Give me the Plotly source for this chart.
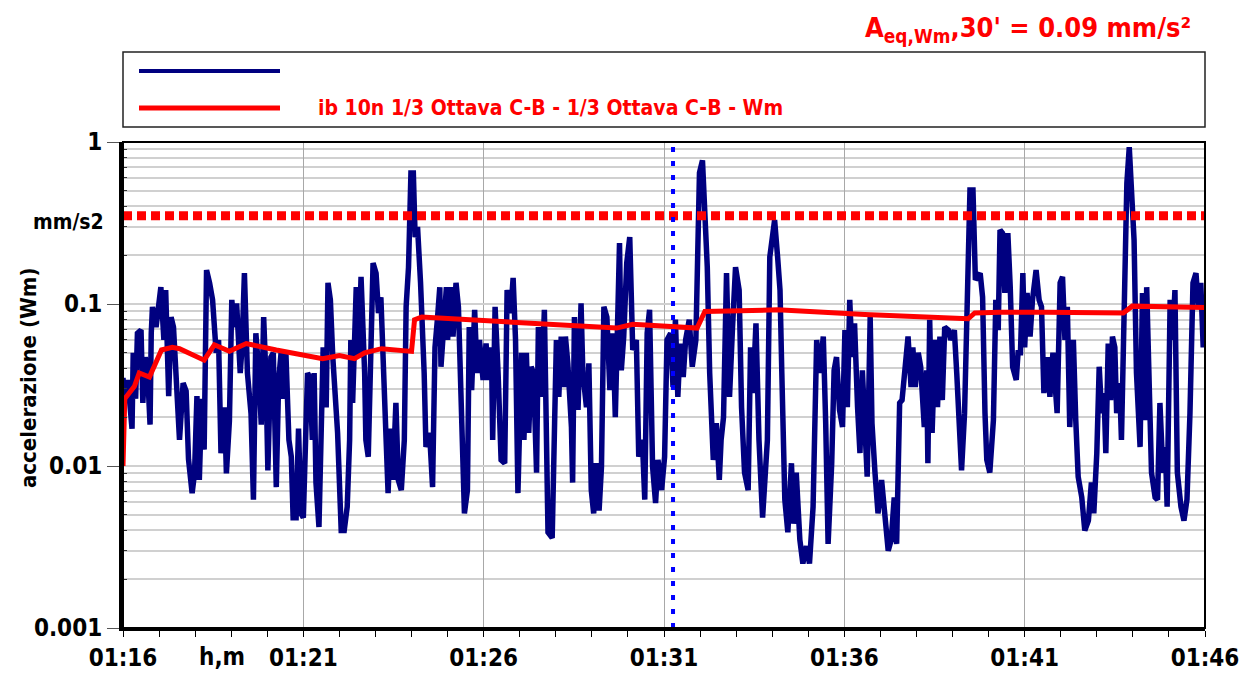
import pandas as pd
import plotly.graph_objects as go

# --- Weighted (Wm) acceleration, 1/3-octave band, sampled every few seconds ---
# time offsets in seconds from 01:16:00
blue_sec = [
    0, 2, 8, 15, 17, 21, 24, 30, 33, 37,
    41, 45, 47, 49, 55, 59, 63, 68, 71, 76,
    80, 84, 88, 94, 100, 105, 109, 115, 119, 123,
    127, 131, 135, 139, 144, 149, 155, 159, 163, 169,
    172, 177, 181, 185, 189, 195, 198, 202, 207, 213,
    217, 221, 226, 230, 234, 238, 241, 246, 250, 255,
    259, 263, 267, 271, 276, 280, 283, 288, 292, 296,
    300, 303, 307, 311, 315, 318, 321, 326, 330, 333,
    338, 341, 345, 349,
    357, 363, 368, 373, 377, 379, 382, 388, 392, 396,
    402, 404, 408, 412, 416, 421, 425, 429, 435, 441,
    445, 449, 454, 458, 463, 468, 471, 475, 479, 483,
    486, 490, 495, 499, 501, 504, 510, 515, 519, 523,
    527, 529, 534, 538, 540, 545, 549, 554, 558, 563,
    568, 573, 576, 580, 585, 589, 593, 599, 604, 608,
    613, 615, 619, 624, 629, 635, 639, 645, 649, 653,
    657, 663, 667, 671, 675, 679, 683, 688, 691, 696,
    701, 707,
    714, 718, 721, 725, 729, 733, 736, 740, 746, 748,
    751, 757, 762, 765, 771, 775, 779, 783, 787, 792,
    796, 800, 805, 810, 815, 819, 822, 826, 829, 833,
    838, 843, 848, 854, 858, 864, 868, 872, 876, 881,
    886, 890, 896, 901, 905, 911, 915, 919, 923, 927,
    932, 936, 942, 947, 953, 955, 959, 964, 968, 972,
    976, 982, 987, 992, 995, 999, 1004, 1009, 1014, 1019,
    1025, 1029, 1034, 1040, 1044, 1048, 1053, 1058, 1064,
    1072, 1076, 1080, 1084, 1089, 1093, 1096, 1101, 1106, 1112,
    1116, 1120, 1126, 1131, 1137, 1142, 1148, 1154, 1159, 1165,
    1169, 1173, 1179, 1183, 1187, 1192, 1197, 1201, 1205, 1209,
    1213, 1217, 1222, 1226, 1230, 1234, 1238, 1243, 1246, 1251,
    1256, 1262, 1267, 1273, 1278, 1283, 1287, 1292, 1296, 1301,
    1306, 1311, 1314, 1318, 1323, 1327, 1333, 1337, 1339, 1342,
    1346, 1351, 1355, 1359, 1363, 1367, 1373, 1377, 1383, 1387,
    1391, 1395, 1400, 1405, 1409, 1414, 1418,
    1426, 1430, 1434, 1437, 1442, 1448, 1452, 1456, 1459, 1463,
    1467, 1472, 1476, 1480, 1486, 1489, 1493, 1497, 1500, 1504,
    1509, 1513, 1519, 1524, 1528, 1532, 1538, 1542, 1547, 1550,
    1554, 1559, 1563, 1567, 1571, 1575, 1581, 1585, 1589, 1595,
    1600, 1606, 1611, 1615, 1620, 1624, 1628, 1632, 1635, 1639,
    1643, 1646, 1650, 1653, 1658, 1661, 1665, 1670, 1674, 1678,
    1682, 1686, 1692, 1696, 1700, 1703, 1708, 1711, 1717, 1721,
    1725, 1730, 1734, 1737, 1742, 1746, 1750, 1754, 1760, 1765,
    1770, 1775, 1780, 1785, 1789, 1793, 1797, 1800,
]
# acceleration values in mm/s2
blue_val = [
    .035, .026, .034, .017, .050, .026, .066, .069, .0245, .047,
    .0375, .018, .066, .096, .072, .101, .127, .060, .122, .027,
    .083, .072, .034, .0145, .0325, .029, .011, .0068, .009, .027,
    .0082, .026, .0126, .162, .135, .106, .050, .060, .012, .023,
    .009, .019, .106, .072, .101, .0375, .054, .155, .0375, .021,
    .0062, .066, .0375, .018, .083, .034, .0094, .047, .050, .0074,
    .034, .050, .026, .050, .0145, .0114, .0048, .0048, .017, .0051,
    .0048, .016, .0375, .035, .0145, .0375, .0079, .0042, .0145, .054,
    .023, .135, .106, .047,
    .016, .004, .004, .0056, .0145, .060, .0245, .127, .047, .147,
    .0375, .0145, .0114, .066, .179, .155, .088, .110, .023, .0068,
    .017, .0082, .0245, .0082, .0071, .0145, .096, .169, .644, .644,
    .259, .299, .135, .072, .0375, .0131, .016, .0074, .054, .080,
    .127, .041, .083, .127, .060, .127, .063, .135, .096, .0255,
    .0051, .0071, .072, .0294, .092, .0375, .060, .034, .057, .034,
    .054, .0145, .096, .0375, .0109, .0104, .122, .088, .145, .060,
    .0068, .050, .0145, .050, .016, .041, .0375, .0091, .072, .0267,
    .092, .0039,
    .0036, .0184, .060, .0267, .063, .0307, .063, .043, .0174, .0079,
    .083, .0222, .101, .0375, .0231, .043, .0071, .0051, .0104, .0053,
    .0099, .096, .083, .0294, .066, .020, .063, .238, .039, .063,
    .179, .259, .052, .060, .0114, .0145, .0062, .066, .092, .0099,
    .0059, .0109, .0071, .0114, .060, .066, .0307, .080, .0267, .057,
    .0354, .060, .080, .041, .060, .135, .644, .77, .397, .169,
    .0375, .0109, .0184, .0082, .0145, .020, .155, .0267, .072, .169,
    .122, .0231, .0091, .0071, .054, .0282, .076, .0145, .0048,
    .0145, .195, .274, .330, .195, .122, .0375, .0062, .0039, .0104,
    .0044, .0091, .0035, .0025, .0032, .0025, .0056, .060, .0375, .063,
    .0184, .0033, .0104, .039, .047, .0222, .0174, .069, .0231, .106,
    .047, .076, .0231, .012, .039, .0212, .0086, .083, .0184, .0091,
    .0051, .0082, .0048, .0030, .0035, .0064, .0033, .0245, .0255, .045,
    .063, .0307, .054, .0307, .050, .041, .0174, .039, .0104, .080,
    .016, .060, .0231, .063, .0255, .072, .069, .060, .069, .0375,
    .0212, .0094, .0212, .110, .505, .505, .141,
    .155, .110, .0212, .0109, .0091, .0192, .106, .069, .286, .274,
    .117, .274, .127, .041, .034, .050, .050, .155, .054, .117,
    .063, .106, .162, .106, .096, .0282, .047, .0267, .050, .0354,
    .0212, .135, .147, .060, .096, .0174, .060, .0192, .0086, .0064,
    .0040, .0046, .0079, .0051, .012, .041, .0212, .0282, .012, .057,
    .0255, .063, .054, .0212, .0325, .0145, .066, .558, .93, .438,
    .248, .0375, .0131, .117, .0192, .127, .0231, .0091, .0064, .0062,
    .0245, .0091, .0131, .0056, .106, .060, .122, .0091, .0056, .0046,
    .0062, .0212, .135, .155, .096, .135, .054, .096,
]

# running equivalent level (Leq) of the same signal
red_sec = [0, 3, 19, 27, 44, 52, 64, 82, 94, 135,
           152, 177, 205, 255, 332, 360, 385, 402, 430, 480,
           485, 497, 573, 718, 821, 848, 955, 968, 1089, 1234,
           1406, 1417, 1459, 1537, 1664, 1679, 1800]
red_val = [.010, .026, .031, .0375, .0354, .041, .052, .054, .053, .045,
           .056, .051, .057, .052, .046, .048, .046, .050, .053, .051,
           .080, .083, .080, .075, .071, .075, .071, .090, .092, .086,
           .081, .088, .089, .089, .088, .097, .095]

threshold = 0.35          # mm/s2 reference limit
cursor_sec = 915          # cursor position (01:31:15)
x_tick_min = [0, 5, 10, 15, 20, 25, 30]
x_tick_text = ["01:16", "01:21", "01:26", "01:31", "01:36", "01:41", "01:46"]
y_ticks = [0.001, 0.01, 0.1, 1]
y_tick_text = ["0.001", "0.01", "0.1", "1"]
legend_label = "ib 10n 1/3 Ottava C-B - 1/3 Ottava C-B - Wm"
result_text = "A<sub>eq,Wm</sub>,30' = 0.09 mm/s²"

assert len(blue_sec) == len(blue_val)
assert len(red_sec) == len(red_val)

base = pd.Timestamp("2000-01-01 01:16:00")
t_start = base
t_end = base + pd.Timedelta(minutes=30)
blue_t = base + pd.to_timedelta(blue_sec, unit="s")
red_t = base + pd.to_timedelta(red_sec, unit="s")
cursor_t = base + pd.Timedelta(seconds=cursor_sec)
x_tick_vals = [base + pd.Timedelta(minutes=m) for m in x_tick_min]

FONT = "DejaVu Sans Condensed, Liberation Sans Narrow, Arial Narrow, sans-serif"
NAVY = "#000080"
RED = "#ff0000"

fig = go.Figure()
fig.add_trace(go.Scatter(x=blue_t, y=blue_val, mode="lines",
                         line=dict(color=NAVY, width=5.5), showlegend=False))
fig.add_trace(go.Scatter(x=red_t, y=red_val, mode="lines",
                         line=dict(color=RED, width=5), showlegend=False))
fig.add_trace(go.Scatter(x=[t_start, t_end], y=[threshold, threshold], mode="lines",
                         line=dict(color=RED, width=9, dash="9px,5px"), showlegend=False))
fig.add_trace(go.Scatter(x=[cursor_t, cursor_t], y=[y_ticks[0], y_ticks[-1]], mode="lines",
                         line=dict(color="#0000ff", width=4, dash="5px,9px"), showlegend=False))

minor_vals = [m * 10 ** e for e in (-3, -2, -1) for m in range(2, 10)]

fig.update_xaxes(
    type="date", range=[t_start, t_end],
    tickvals=x_tick_vals, ticktext=x_tick_text,
    ticks="outside", ticklen=6, tickwidth=1, tickcolor="black",
    showgrid=True, gridcolor="#a8a8a8", gridwidth=1,
    minor=dict(dtick=60000, tick0=t_start, ticks="outside", ticklen=6,
               tickcolor="black", showgrid=False),
    showline=True, linecolor="black", linewidth=3, zeroline=False,
    automargin=False,
    tickfont=dict(family=FONT, size=24, color="black", weight="bold"),
)
fig.update_yaxes(
    type="log", range=[-3, 0], tickvals=y_ticks, ticktext=y_tick_text,
    ticks="outside", ticklen=12, tickwidth=1, tickcolor="#555555",
    showgrid=True, gridcolor="#d0d0d0", gridwidth=2,
    minor=dict(tickvals=minor_vals, showgrid=True, gridcolor="#d0d0d0", gridwidth=2,
               ticks="inside", ticklen=4, tickcolor="#333333"),
    showline=True, linecolor="black", linewidth=4, zeroline=False,
    automargin=False,
    tickfont=dict(family=FONT, size=24, color="black", weight="bold"),
)

shapes = [
    # plot frame
    dict(type="rect", xref="paper", yref="paper", x0=0, x1=1, y0=0, y1=1,
         line=dict(color="black", width=2), layer="above"),
    # legend box
    dict(type="rect", xref="paper", yref="paper", x0=0, x1=1, y0=1.031, y1=1.185,
         line=dict(color="#222222", width=1.5)),
    dict(type="line", xref="paper", yref="paper", x0=0.0148, x1=0.1451, y0=1.146, y1=1.146,
         line=dict(color=NAVY, width=4)),
    dict(type="line", xref="paper", yref="paper", x0=0.0148, x1=0.1451, y0=1.070, y1=1.070,
         line=dict(color=RED, width=5)),
]

annotations = [
    dict(text=legend_label, xref="paper", yref="paper", x=0.178, y=1.070,
         xanchor="left", yanchor="middle", showarrow=False,
         font=dict(family=FONT, size=21, color=RED, weight="bold")),
    dict(text=result_text, xref="paper", yref="paper", x=0.836, y=1.232,
         xanchor="center", yanchor="middle", showarrow=False,
         font=dict(family=FONT, size=27, color=RED, weight="bold")),
    dict(text="mm/s2", xref="paper", yref="paper", x=-0.016, y=0.835,
         xanchor="right", yanchor="middle", showarrow=False,
         font=dict(family=FONT, size=21, color="black", weight="bold")),
    dict(text="accelerazione (Wm)", xref="paper", yref="paper", x=-0.088, y=0.514,
         xanchor="center", yanchor="middle", textangle=-90, showarrow=False,
         font=dict(family=FONT, size=22, color="black", weight="bold")),
    dict(text="h,m", xref="paper", yref="paper", x=0.0915, y=-0.06,
         xanchor="center", yanchor="middle", showarrow=False,
         font=dict(family=FONT, size=24, color="black", weight="bold")),
]

fig.update_layout(
    width=1244, height=673,
    margin=dict(l=123, r=39, t=142, b=45),
    paper_bgcolor="white", plot_bgcolor="white",
    shapes=shapes, annotations=annotations, showlegend=False,
)

fig.write_html("out.html")
